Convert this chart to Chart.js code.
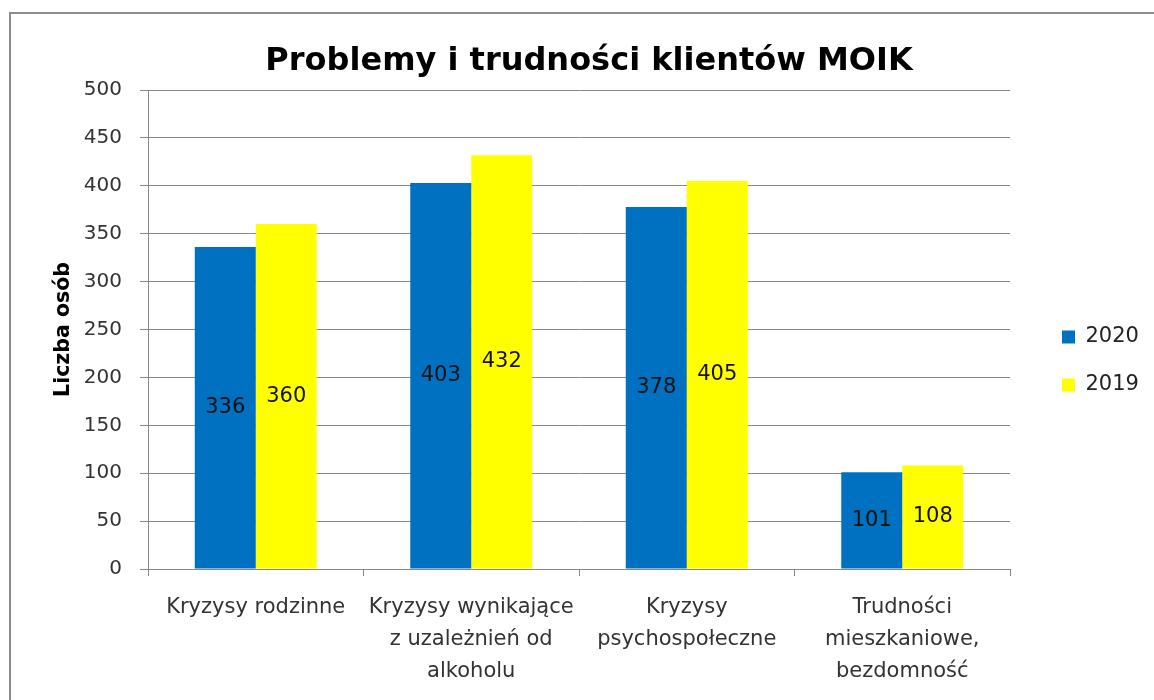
<!DOCTYPE html>
<html>
<head>
<meta charset="utf-8">
<script src="https://cdn.jsdelivr.net/npm/chart.js@4.4.1/dist/chart.umd.min.js"></script>
<style>
  html, body { margin: 0; padding: 0; background: #fff; overflow: hidden; width: 1154px; height: 700px; }
  #frame { position: absolute; left: 9px; top: 12px; border: 2px solid #8c8c8c; background: #fff; }
  canvas { display: block; }
</style>
</head>
<body>
<div id="frame"><canvas id="c" width="1156" height="690"></canvas></div>
<script>
const chartTitle = 'Problemy i trudności klientów MOIK';
const yAxisTitle = 'Liczba osób';
const categories = [
  ['Kryzysy rodzinne'],
  ['Kryzysy wynikające', 'z uzależnień od', 'alkoholu'],
  ['Kryzysy', 'psychospołeczne'],
  ['Trudności', 'mieszkaniowe,', 'bezdomność']
];
const seriesNames = ['2020', '2019'];
const values2020 = [336, 403, 378, 101];
const values2019 = [360, 432, 405, 108];
const seriesColors = ['#0070C0', '#FFFF00'];
const yMin = 0, yMax = 500, yStep = 50;

const FONT = 'DejaVu Sans';
const GRID = '#878787';

const barLabels = {
  id: 'barLabels',
  afterDatasetsDraw(chart) {
    const ctx = chart.ctx;
    ctx.save();
    ctx.font = '21px "' + FONT + '"';
    ctx.fillStyle = '#111';
    ctx.textAlign = 'center';
    ctx.textBaseline = 'middle';
    chart.data.datasets.forEach((ds, i) => {
      const meta = chart.getDatasetMeta(i);
      meta.data.forEach((el, j) => {
        ctx.fillText(String(ds.data[j]), el.x, (el.y + el.base) / 2);
      });
    });
    ctx.restore();
  }
};

const legendPlacer = {
  id: 'legendPlacer',
  afterInit(chart) {
    const lg = chart.legend;
    if (!lg || lg._patched) return;
    lg._patched = true;
    const origFit = lg.fit.bind(lg);
    lg.fit = function () { origFit(); this.width = 157; };
    const origDraw = lg.draw.bind(lg);
    lg.draw = function () {
      const l = this.left, t = this.top;
      this.left = 1024; this.top = 285.5;
      origDraw();
      this.left = l; this.top = t;
    };
  }
};

new Chart(document.getElementById('c'), {
  type: 'bar',
  data: {
    labels: categories,
    datasets: [
      { label: seriesNames[0], data: values2020, backgroundColor: seriesColors[0], borderWidth: 0 },
      { label: seriesNames[1], data: values2019, backgroundColor: seriesColors[1], borderWidth: 0 }
    ]
  },
  options: {
    responsive: false,
    animation: false,
    devicePixelRatio: 1,
    layout: { padding: { left: 0, right: 0, top: 0, bottom: 0 } },
    datasets: { bar: { barPercentage: 1, categoryPercentage: 0.566 } },
    plugins: {
      title: {
        display: true,
        text: chartTitle,
        color: '#000',
        font: { family: FONT, size: 32, weight: 'bold', lineHeight: 1.2 },
        padding: { top: 28, bottom: 9.6 }
      },
      legend: {
        display: true,
        position: 'right',
        align: 'start',
        labels: {
          color: '#222',
          font: { family: FONT, size: 21 },
          boxWidth: 13,
          boxHeight: 13,
          padding: 27
        }
      },
      tooltip: { enabled: false }
    },
    scales: {
      x: {
        grid: { display: true, offset: true, drawOnChartArea: false, drawTicks: true, tickLength: 7, color: GRID },
        border: { display: true, color: GRID, width: 1 },
        ticks: {
          color: '#333',
          font: { family: FONT, size: 21, lineHeight: 1.52 },
          padding: 15.5,
          maxRotation: 0,
          autoSkip: false
        },
        afterFit(scale) { scale.height = 135; }
      },
      y: {
        min: yMin,
        max: yMax,
        grid: { color: GRID, tickLength: 8, drawTicks: true },
        border: { display: true, color: GRID, width: 1 },
        ticks: {
          stepSize: yStep,
          color: '#333',
          font: { family: FONT, size: 20 },
          padding: 18
        },
        title: {
          display: true,
          text: yAxisTitle,
          color: '#000',
          font: { family: FONT, size: 20.5, weight: 'bold', lineHeight: 1.2 },
          padding: { top: 40, bottom: 0 }
        },
        afterFit(scale) { scale.width = 137; }
      }
    }
  },
  plugins: [barLabels, legendPlacer]
});
</script>
</body>
</html>
